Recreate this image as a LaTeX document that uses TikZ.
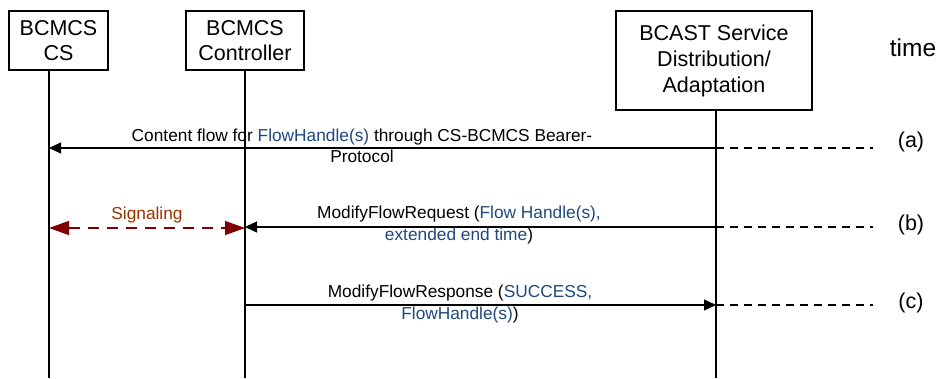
\documentclass[tikz,border=0pt]{standalone}
\usepackage{fontspec}
\setmainfont{Liberation Sans}
\usetikzlibrary{arrows.meta}
\definecolor{fblue}{HTML}{1F497D}
\definecolor{sigtext}{HTML}{993300}
\definecolor{sigarrow}{HTML}{800000}
\begin{document}
\begin{tikzpicture}[x=1pt,y=-1pt,
  box/.style={draw, line width=1.1pt, align=center, inner sep=0pt,
    font=\fontsize{21.5}{26}\selectfont},
  life/.style={line width=1.1pt},
  msg/.style={line width=1.2pt, -{Triangle[length=12pt,width=11pt]}},
  ext/.style={line width=1.1pt, dash pattern=on 8pt off 6pt},
  sig/.style={line width=1.4pt, sigarrow, dash pattern=on 11pt off 8pt,
    {Triangle[length=20pt,width=14pt]}-{Triangle[length=20pt,width=14pt]}},
  lbl/.style={align=center, inner sep=0pt, font=\fontsize{17.3}{21.5}\selectfont},
  tag/.style={inner sep=0pt, font=\fontsize{21.5}{25}\selectfont}]
\useasboundingbox (0,0) rectangle (943,378);
\fill[white] (0,0) rectangle (943,378);

% boxes
\node[box, minimum width=99pt, minimum height=59pt, font=\fontsize{21.5}{25}\selectfont] (cs) at (58.5,40.5) {BCMCS\\CS};
\node[box, minimum width=118pt, minimum height=59pt, font=\fontsize{21.5}{25}\selectfont] (ctl) at (245,40.5) {BCMCS\\Controller};
\node[box, minimum width=196pt, minimum height=99pt] (bc) at (714,60.5) {BCAST Service\\Distribution/\\Adaptation};
\node[inner sep=0pt, font=\fontsize{24.5}{28}\selectfont, anchor=base] (time) at (913,56) {time};

% lifelines
\coordinate (csT) at (49,70);   \coordinate (csB) at (49,378);
\coordinate (ctT) at (245,70);  \coordinate (ctB) at (245,378);
\coordinate (bcT) at (716,110); \coordinate (bcB) at (716,378);
\draw[life] (csT) -- (csB);
\draw[life] (ctT) -- (ctB);
\draw[life] (bcT) -- (bcB);

% message points
\coordinate (csA) at (49,148);  \coordinate (bcA) at (716,148); \coordinate (eA) at (873,148);
\coordinate (csS) at (49,228);  \coordinate (ctS) at (245,228);
\coordinate (ctB2) at (245,227); \coordinate (bcB2) at (716,227); \coordinate (eB) at (873,227);
\coordinate (ctC) at (245,305); \coordinate (bcC) at (716,305); \coordinate (eC) at (873,305);

% (a)
\draw[msg] (bcA) -- (csA);
\draw[ext] (bcA) -- (eA);
\node[lbl] (la) at (362,146) {Content flow for \textcolor{fblue}{FlowHandle(s)} through CS-BCMCS Bearer-\\Protocol};
\node[tag] (ta) at (911,142) {(a)};

% (b)
\draw[sig] (csS) -- (ctS);
\node[lbl, text=sigtext] (ls) at (147,215) {Signaling};
\draw[msg] (bcB2) -- (ctB2);
\draw[ext] (bcB2) -- (eB);
\node[lbl] (lb) at (459,225) {ModifyFlowRequest (\textcolor{fblue}{Flow Handle(s),}\\\textcolor{fblue}{extended end time})};
\node[tag] (tb) at (911,225) {(b)};

% (c)
\draw[msg] (ctC) -- (bcC);
\draw[ext] (bcC) -- (eC);
\node[lbl] (lc) at (460,304) {ModifyFlowResponse (\textcolor{fblue}{SUCCESS,}\\\textcolor{fblue}{FlowHandle(s)})};
\node[tag] (tc) at (911,303) {(c)};
\end{tikzpicture}
\end{document}
